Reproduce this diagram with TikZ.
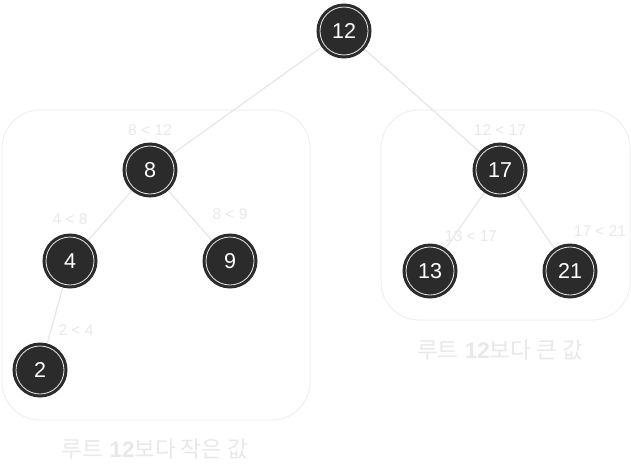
\documentclass[tikz,border=0pt]{standalone}
\usepackage{fontspec}
\setmainfont{Liberation Sans}
\newfontfamily\krfont{Noto Sans CJK KR}
\definecolor{nodefill}{HTML}{2B2B2B}
\definecolor{edgegray}{HTML}{E6E6E6}
\definecolor{boxgray}{HTML}{EFEFEF}
\definecolor{labgray}{HTML}{E8E8E8}
\begin{document}
\begin{tikzpicture}[x=1pt,y=-1pt,
  nd/.style={circle,fill=nodefill,draw=nodefill,line width=1pt,minimum size=54pt,inner sep=0pt,text=white,font=\fontsize{21.5}{24}\selectfont},
  ring/.style={draw=white!92!black,line width=0.8pt},
  edge/.style={draw=edgegray,line width=1.2pt},
  elab/.style={text=labgray,font=\fontsize{15.5}{17}\selectfont,inner sep=0pt},
  glab/.style={text=labgray,font=\fontsize{22.5}{25}\selectfont,inner sep=0pt},
  grp/.style={draw=boxgray,line width=1pt,rounded corners=38pt}]
\useasboundingbox (0,0) rectangle (631,471);
% group boxes
\draw[grp] (2,110) rectangle (310,420);
\draw[grp] (381,110) rectangle (630,320);
\node[glab] (gl) at (155,449) {{\krfont 루트} {\bfseries 12}{\krfont 보다 작은 값}};
\node[glab] (gr) at (500,350) {{\krfont 루트} {\bfseries 12}{\krfont 보다 큰 값}};
% node positions
\coordinate (n12) at (344,31);
\coordinate (n8) at (150,170);
\coordinate (n4) at (70,261);
\coordinate (n9) at (230,261);
\coordinate (n2) at (40,370);
\coordinate (n17) at (500,170);
\coordinate (n13) at (430,271);
\coordinate (n21) at (570,271);
% edges
\foreach \a/\b in {n12/n8,n12/n17,n8/n4,n8/n9,n4/n2,n17/n13,n17/n21}{
  \draw[edge] (\a) -- (\b);
}
% nodes
\foreach \n/\t in {n12/12,n8/8,n4/4,n9/9,n2/2,n17/17,n13/13,n21/21}{
  \node[nd] (c\n) at (\n) {\t};
  \draw[ring] (\n) circle (24);
}
% edge labels
\node[elab] (l1) at (150,130) {8 < 12};
\node[elab] (l2) at (70,219) {4 < 8};
\node[elab] (l3) at (230,214) {8 < 9};
\node[elab] (l4) at (76,330) {2 < 4};
\node[elab] (l5) at (500,130) {12 < 17};
\node[elab] (l6) at (471,236) {13 < 17};
\node[elab] (l7) at (600,231) {17 < 21};
\end{tikzpicture}
\end{document}
